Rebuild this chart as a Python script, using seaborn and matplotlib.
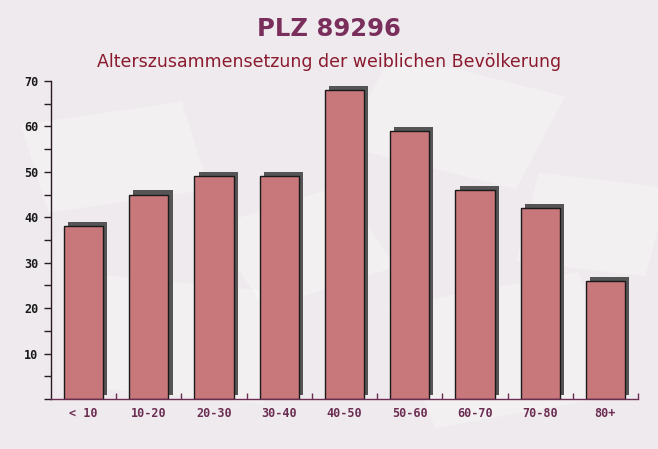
import matplotlib
matplotlib.use("Agg")
import matplotlib.pyplot as plt
import matplotlib.patheffects as pe
from matplotlib.patches import Rectangle
from matplotlib.transforms import Affine2D
from matplotlib.ticker import MultipleLocator, FixedLocator
import seaborn as sns
import pandas as pd

categories = ["< 10", "10-20", "20-30", "30-40", "40-50", "50-60", "60-70", "70-80", "80+"]
values = [38, 45, 49, 49, 68, 59, 46, 42, 26]
title = "PLZ 89296"
subtitle = "Alterszusammensetzung der weiblichen Bevölkerung"

df = pd.DataFrame({"age": categories, "count": values})

sns.set_style("white")
plt.rcParams["font.family"] = ["DejaVu Sans"]

fig = plt.figure(figsize=(6.58, 4.49), dpi=100, facecolor="#eeeaed")

# faint decorative background sheets
for (x, y, w, h, ang) in [(0.05, 0.55, 0.25, 0.2, 12), (0.55, 0.62, 0.28, 0.22, -20),
                          (0.12, 0.12, 0.3, 0.25, -8), (0.62, 0.08, 0.3, 0.28, 15),
                          (0.35, 0.35, 0.22, 0.2, 25), (0.8, 0.4, 0.2, 0.2, -10)]:
    r = Rectangle((x, y), w, h, facecolor="white", alpha=0.3, edgecolor="none", zorder=-5,
                  transform=Affine2D().rotate_deg_around(x + w/2, y + h/2, ang) + fig.transFigure)
    fig.patches.append(r)

ax = fig.add_axes([51/658, 1-399/449, (638-51)/658, (399-81)/449])
ax.set_facecolor("none")
ax.set_zorder(1)

sns.barplot(data=df, x="age", y="count", color="#c8777b", saturation=1,
            width=0.6, edgecolor="#1a1a1a", linewidth=1.0, ax=ax)
for p in ax.patches:
    p.set_path_effects([pe.SimplePatchShadow(offset=(3, 3), shadow_rgbFace="#555555", alpha=1.0),
                        pe.Normal()])

ax.set_xlim(-0.5, len(categories) - 0.5)
ax.set_ylim(0, 70)
ax.yaxis.set_major_locator(MultipleLocator(10))
ax.yaxis.set_minor_locator(MultipleLocator(5))
ax.set_yticks(range(10, 71, 10))
ax.xaxis.set_minor_locator(FixedLocator([i + 0.5 for i in range(len(categories))]))

for s in ["top", "right"]:
    ax.spines[s].set_visible(False)
ax.spines["left"].set_color("#2a1a24")
ax.spines["bottom"].set_color("#6b2d52")
ax.spines["left"].set_linewidth(1)
ax.spines["bottom"].set_linewidth(1)

ax.tick_params(axis="y", which="major", left=True, direction="out", length=5, width=1,
               color="#2a1a24", labelsize=8.5, labelcolor="#1a1a1a", pad=4)
ax.tick_params(axis="y", which="minor", left=True, direction="out", length=5, width=1, color="#2a1a24")
ax.tick_params(axis="x", which="major", bottom=False, labelsize=8.5, labelcolor="#6b2d52", pad=2)
ax.tick_params(axis="x", which="minor", bottom=True, direction="in", length=4, width=1, color="#6b2d52")
for lab in ax.get_xticklabels() + ax.get_yticklabels():
    lab.set_fontfamily("DejaVu Sans Mono")
    lab.set_fontweight("bold")

ax.set_xlabel("")
ax.set_ylabel("")

fig.text(0.5, 1-29/449, title, ha="center", va="center", fontsize=17.5,
         fontweight="bold", color="#7a2e5c")
fig.text(0.5, 1-62/449, subtitle, ha="center", va="center", fontsize=12.5,
         color="#8b1a2e")

fig.savefig("out.png", dpi=100, facecolor=fig.get_facecolor())
